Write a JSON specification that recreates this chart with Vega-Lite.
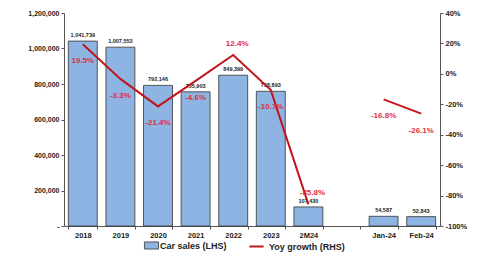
{
  "$schema": "https://vega.github.io/schema/vega-lite/v6.json",
  "width": 376,
  "height": 213,
  "autosize": {"type": "none"},
  "padding": {"left": 64, "top": 13, "right": 38, "bottom": 33},
  "background": "white",
  "config": {
    "view": {"stroke": null},
    "font": "Liberation Sans",
    "axis": {"labelFont": "Liberation Sans", "labelFontWeight": "bold", "labelColor": "#222", "domainColor": "#555", "tickColor": "#555", "grid": false, "title": null, "labelOverlap": false, "labelFlush": false}
  },
  "data": {
    "values": [
      {"cat": "2018", "sales": 1041739, "growth": 0.195, "grp": "a"},
      {"cat": "2019", "sales": 1007553, "growth": -0.033, "grp": "a"},
      {"cat": "2020", "sales": 792146, "growth": -0.214, "grp": "a"},
      {"cat": "2021", "sales": 755903, "growth": -0.046, "grp": "a"},
      {"cat": "2022", "sales": 849399, "growth": 0.124, "grp": "a"},
      {"cat": "2023", "sales": 758893, "growth": -0.107, "grp": "a"},
      {"cat": "2M24", "sales": 107430, "growth": -0.858, "grp": "a"},
      {"cat": "Jan-24", "sales": 54587, "growth": -0.168, "grp": "b"},
      {"cat": "Feb-24", "sales": 52843, "growth": -0.261, "grp": "b"}
    ]
  },
  "encoding": {
    "x": {
      "field": "cat", "type": "ordinal",
      "scale": {"domain": ["2018", "2019", "2020", "2021", "2022", "2023", "2M24", " ", "Jan-24", "Feb-24"], "paddingInner": 0.23, "paddingOuter": 0.115},
      "axis": {"labelAngle": 0, "labelFontSize": 7.5, "tickBand": "extent", "tickSize": 3, "labelPadding": 2, "labelOverlap": false, "title": null}
    }
  },
  "layer": [
    {
      "encoding": {
        "y": {
          "field": "sales", "type": "quantitative",
          "scale": {"domain": [0, 1200000], "nice": false},
          "axis": {"values": [0, 200000, 400000, 600000, 800000, 1000000, 1200000], "labelExpr": "datum.value == 0 ? '-' : format(datum.value, ',')", "labelFontSize": 7, "tickSize": 3, "labelOverlap": false, "labelFlush": false, "title": null}
        }
      },
      "layer": [
        {
          "mark": {"type": "bar", "stroke": "#333", "strokeWidth": 0.8},
          "encoding": {
            "fill": {
              "datum": "Car sales (LHS)",
              "scale": {"domain": ["Car sales (LHS)"], "range": ["#8db4e2"]},
              "legend": {"orient": "none", "legendX": 80, "legendY": 225, "symbolType": "M-1,-0.5h2v1h-2z", "symbolSize": 200, "symbolStrokeColor": "#333", "symbolStrokeWidth": 0.8, "labelFontSize": 9, "labelFontWeight": "bold", "labelColor": "#222", "title": null, "labelOffset": 1}
            }
          }
        },
        {
          "mark": {"type": "text", "dy": -6, "fontSize": 5.5, "fontWeight": "bold", "color": "#222"},
          "encoding": {
            "text": {"field": "sales", "type": "quantitative", "format": ","}
          }
        }
      ]
    },
    {
      "transform": [{"calculate": "replace(format(datum.growth, '.1%'), '\u2212', '-')", "as": "glabel"}],
      "encoding": {
        "y": {
          "field": "growth", "type": "quantitative",
          "scale": {"domain": [-1, 0.4], "nice": false},
          "axis": {"orient": "right", "values": [-1, -0.8, -0.6, -0.4, -0.2, 0, 0.2, 0.4], "labelExpr": "replace(format(datum.value, '.0%'), '\u2212', '-')", "labelFontSize": 7.5, "tickSize": 3, "labelOverlap": false, "labelFlush": false, "title": null}
        }
      },
      "layer": [
        {
          "mark": {"type": "line", "color": "#c0161e", "strokeWidth": 2},
          "encoding": {
            "detail": {"field": "grp"},
            "stroke": {
              "datum": "Yoy growth (RHS)",
              "scale": {"domain": ["Yoy growth (RHS)"], "range": ["#c0161e"]},
              "legend": {"orient": "none", "legendX": 184, "legendY": 225, "symbolType": "stroke", "symbolSize": 200, "symbolStrokeWidth": 2, "labelFontSize": 9, "labelFontWeight": "bold", "labelColor": "#222", "title": null}
            }
          }
        },
        {
          "transform": [{"filter": "datum.cat != '2022' && datum.cat != '2M24'"}],
          "mark": {"type": "text", "dy": 17, "fontSize": 8, "fontWeight": "bold", "color": "#e0303c"},
          "encoding": {
            "text": {"field": "glabel", "type": "nominal"}
          }
        },
        {
          "transform": [{"filter": "datum.cat == '2022' || datum.cat == '2M24'"}],
          "mark": {"type": "text", "dy": -11, "dx": 4, "fontSize": 8, "fontWeight": "bold", "color": "#e0303c"},
          "encoding": {
            "text": {"field": "glabel", "type": "nominal"}
          }
        }
      ]
    }
  ],
  "resolve": {"scale": {"y": "independent"}}
}
